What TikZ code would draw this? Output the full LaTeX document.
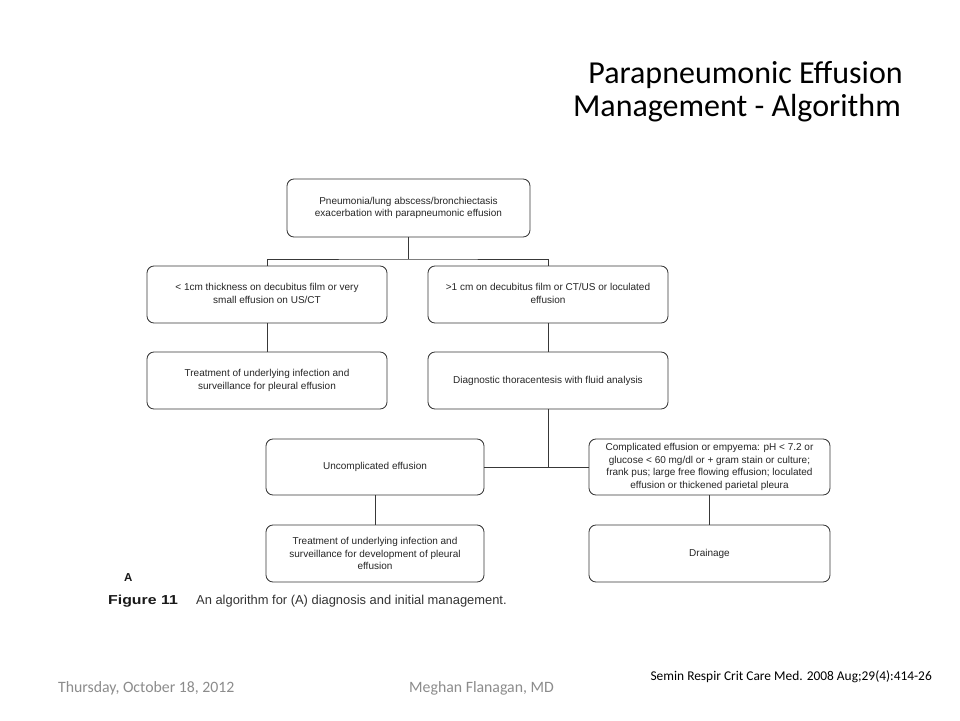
\documentclass[tikz,border=0pt]{standalone}
\usepackage{fontspec}
\setmainfont{Carlito}
\newfontfamily\arialf{Liberation Sans}
\definecolor{linegray}{HTML}{383838}
\definecolor{footgray}{HTML}{8C8C8C}
\newcommand{\twoline}[2]{\raisebox{3pt}{\begin{tabular}{@{}c@{}}#1\\#2\end{tabular}}}
\begin{document}
\begin{tikzpicture}[x=1pt,y=-1pt,
  box/.style={draw=linegray, line width=0.85pt, rounded corners=7pt, align=center,
    font=\arialf\fontsize{10}{12.8}\selectfont, text=black!85, inner sep=2pt},
  conn/.style={draw=linegray, line width=0.85pt},
  titletext/.style={font=\fontsize{32}{38}\selectfont, anchor=base east, inner sep=0pt},
  foot/.style={font=\fontsize{15.8}{18}\selectfont, text=footgray, anchor=base west, inner sep=0pt}]
\useasboundingbox[fill=white] (0,0) rectangle (960,720);

% title
\node[titletext] (t1) at (903,83) {Parapneumonic Effusion};
\node[titletext] (t2) at (901,116) {Management - Algorithm};

% boxes
\node[box, minimum width=243pt, minimum height=58pt] (top) at (408.5,208)
  {\twoline{Pneumonia/lung abscess/bronchiectasis}{exacerbation with parapneumonic effusion}};
\node[box, minimum width=240pt, minimum height=57pt] (l1) at (267,294.5)
  {\twoline{< 1cm thickness on decubitus film or very}{small effusion on US/CT}};
\node[box, minimum width=240pt, minimum height=57pt] (r1) at (548,294.5)
  {\twoline{>1 cm on decubitus film or CT/US or loculated}{effusion}};
\node[box, minimum width=240pt, minimum height=57pt] (l2) at (267,380.5)
  {Treatment of underlying infection and\\surveillance for pleural effusion};
\node[box, minimum width=240pt, minimum height=57pt] (r2) at (548,380.5)
  {Diagnostic thoracentesis with fluid analysis};
\node[box, minimum width=218pt, minimum height=56pt] (u) at (375,467)
  {Uncomplicated effusion};
\node[box, minimum width=241pt, minimum height=56pt] (c) at (709.5,467)
  {Complicated effusion or empyema: pH < 7.2 or\\glucose < 60 mg/dl or + gram stain or culture;\\frank pus; large free flowing effusion; loculated\\effusion or thickened parietal pleura};
\node[box, minimum width=218pt, minimum height=57pt] (t2b) at (375,553.5)
  {Treatment of underlying infection and\\surveillance for development of pleural\\effusion};
\node[box, minimum width=241pt, minimum height=57pt] (d) at (709.5,553.5)
  {Drainage};

% connectors
\coordinate (bar) at (408.5,259);
\draw[conn] (top.south) -- (bar);
\draw[conn] (l1.north) |- (bar) -| (r1.north);
\draw[conn] (l1.south) -- (l2.north);
\draw[conn] (r1.south) -- (r2.north);
\coordinate (j) at (548,467);
\draw[conn] (r2.south) -- (j);
\draw[conn] (u.east) -- (c.west);
\draw[conn] (u.south) -- (t2b.north);
\draw[conn] (c.south) -- (d.north);

% figure labels
\node[font=\arialf\bfseries\fontsize{11.5}{14}\selectfont, text=black!90, anchor=base west, inner sep=0pt] (fa) at (124,581) {A};
\node[font=\arialf\bfseries\fontsize{13}{14}\selectfont, text=black!90, anchor=base west, inner sep=0pt] (fig) at (108,604) {\scalebox{1.22}[1]{Figure 11}};
\node[font=\arialf\fontsize{12.9}{14}\selectfont, text=black!80, anchor=base west, inner sep=0pt] (cap) at (196,604) {An algorithm for (A) diagnosis and initial management.};

% footer
\node[foot] (date) at (58,692) {Thursday, October 18, 2012};
\node[foot] (auth) at (409,692) {Meghan Flanagan, MD};
\node[font=\fontsize{13.4}{15}\selectfont, anchor=base east, inner sep=0pt] (ref) at (932,680) {Semin Respir Crit Care Med. 2008 Aug;29(4):414-26};
\end{tikzpicture}
\end{document}
